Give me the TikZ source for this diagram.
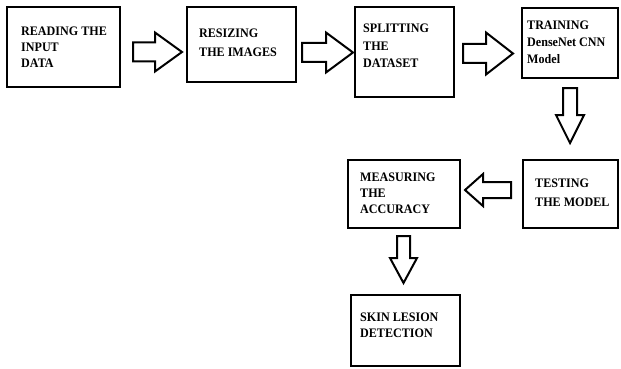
\documentclass[tikz,border=0pt]{standalone}
\usepackage{fontspec}
\setmainfont{Liberation Serif}[FakeStretch=0.93]
\usetikzlibrary{calc}
\tikzset{
  box/.style={draw=black, line width=2.7pt, rectangle, inner sep=0pt, outer sep=0pt, anchor=north west},
  lbl/.style={anchor=north west, inner sep=0pt, align=left, text=black},
  arrowline/.style={draw=black, line width=2pt, fill=white, line join=miter},
  pics/blockarrow/.style n args={4}{code={
    % tail at the origin, pointing along +x: length, shaft half width, head half width, head length
    \draw[arrowline] (0,-#2) -- ({#1-#4},-#2) -- ({#1-#4},-#3) -- (#1,0)
      -- ({#1-#4},#3) -- ({#1-#4},#2) -- (0,#2) -- cycle;
  }}
}
\newcommand{\lblfont}[1]{\fontsize{13}{#1}\selectfont\bfseries}
\begin{document}
\begin{tikzpicture}[x=1pt, y=-1pt]
  \useasboundingbox (0,0) rectangle (621,369);

  % process boxes
  \node[box, minimum width=113pt, minimum height=80pt] (read)    at (7,7)     {};
  \node[box, minimum width=109pt, minimum height=75pt] (resize)  at (187,7)   {};
  \node[box, minimum width=99pt,  minimum height=90pt] (split)   at (355,7)   {};
  \node[box, minimum width=96pt,  minimum height=70pt] (train)   at (522,8)   {};
  \node[box, minimum width=95pt,  minimum height=68pt] (test)    at (523,160) {};
  \node[box, minimum width=112pt, minimum height=68pt] (measure) at (348,160) {};
  \node[box, minimum width=109pt, minimum height=71pt] (detect)  at (351,295) {};

  % box captions
  \node[lbl, font=\lblfont{16}]   (readtxt)    at (21,26.7)   {READING THE\\INPUT\\DATA};
  \node[lbl, font=\lblfont{19}]   (resizetxt)  at (199,28.7)  {RESIZING\\THE IMAGES};
  \node[lbl, font=\lblfont{17.5}] (splittxt)   at (363,23.7)  {SPLITTING\\THE\\DATASET};
  \node[lbl, font=\lblfont{17}]   (traintxt)   at (527,20.7)  {TRAINING\\DenseNet CNN\\Model};
  \node[lbl, font=\lblfont{19}]   (testtxt)    at (535,178.7) {TESTING\\THE MODEL};
  \node[lbl, font=\lblfont{16}]   (measuretxt) at (360,172.7) {MEASURING\\THE\\ACCURACY};
  \node[lbl, font=\lblfont{16}]   (detecttxt)  at (360,312.7) {SKIN LESION\\DETECTION};

  % block arrows between the stages
  \pic at (133,52)              {blockarrow={49}{9.5}{19.5}{27}};
  \pic at (302,52.5)            {blockarrow={51}{9.5}{20}{27}};
  \pic at (463,53.5)            {blockarrow={50}{9.5}{21}{27}};
  \pic[rotate=-90] at (570,88)  {blockarrow={55}{7}{14}{28}};
  \pic[rotate=180] at (511,190) {blockarrow={46}{8}{16}{18}};
  \pic[rotate=-90] at (403.5,236) {blockarrow={47}{6.5}{13.5}{25}};
\end{tikzpicture}
\end{document}
